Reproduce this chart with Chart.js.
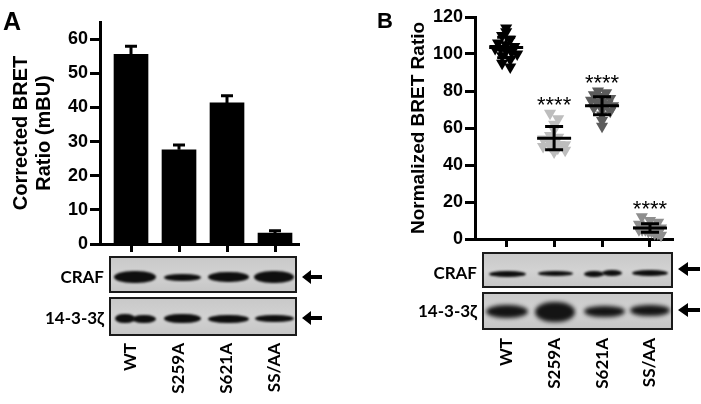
<!DOCTYPE html>
<html>
<head>
<meta charset="utf-8">
<script src="https://cdn.jsdelivr.net/npm/chart.js@4/dist/chart.umd.min.js"></script>
<style>
  html, body { margin: 0; padding: 0; background: #fff; }
  #wrap { position: relative; width: 701px; height: 404px; overflow: hidden; background: #fff; }
  canvas { position: absolute; top: 0; }
  .lbl { position: absolute; font-family: 'Lato', 'Open Sans', sans-serif; font-weight: 700; font-size: 17px; line-height: 1; color: #000; white-space: nowrap; text-align: right; }
  .panel { position: absolute; font-family: 'Liberation Sans', Arial, sans-serif; font-weight: 700; line-height: 1; color: #000; }
  .blot { position: absolute; box-sizing: border-box; border: 2px solid #1a1a1a; background: linear-gradient(180deg, #c9c9c9, #d2d2d2 50%, #c6c6c6); overflow: hidden; }
  .band { position: absolute; background: #0e0e0e; border-radius: 45% / 50%; filter: blur(1.3px); }
  .soft { filter: blur(2px); background: #141414; }
  .arrow { position: absolute; }
</style>
</head>
<body>
<div id="wrap">
  <canvas id="chartA" width="350" height="404" style="left:0;width:350px;height:404px"></canvas>
  <canvas id="chartB" width="351" height="404" style="left:350px;width:351px;height:404px"></canvas>

  <div class="panel" style="left:3px;top:9px;font-size:25px">A</div>
  <div class="panel" style="left:377px;top:10px;font-size:22px">B</div>

  <!-- Panel A blots -->
  <div class="lbl" style="right:597px;top:268px">CRAF</div>
  <div class="lbl" style="right:597px;top:309px">14-3-3ζ</div>
  <div class="blot" style="left:109px;top:256px;width:188px;height:37px">
    <div class="band" style="left:3px;top:13px;width:42px;height:12px"></div>
    <div class="band" style="left:53px;top:16px;width:37px;height:7px"></div>
    <div class="band" style="left:97px;top:14px;width:41px;height:10px"></div>
    <div class="band" style="left:143px;top:13px;width:40px;height:12px"></div>
  </div>
  <div class="blot" style="left:109px;top:297px;width:188px;height:39px">
    <div class="band" style="left:4px;top:15px;width:20px;height:9px"></div>
    <div class="band" style="left:21px;top:16px;width:24px;height:8px"></div>
    <div class="band" style="left:53px;top:15px;width:37px;height:9px"></div>
    <div class="band" style="left:97px;top:16px;width:41px;height:8px"></div>
    <div class="band" style="left:144px;top:16px;width:39px;height:7px"></div>
  </div>
  <svg class="arrow" style="left:302px;top:270px" width="20" height="14" viewBox="0 0 20 14"><polygon points="0,7 9,0 9,5 20,5 20,9 9,9 9,14" fill="#000"/></svg>
  <svg class="arrow" style="left:302px;top:311px" width="20" height="14" viewBox="0 0 20 14"><polygon points="0,7 9,0 9,5 20,5 20,9 9,9 9,14" fill="#000"/></svg>

  <!-- Panel B blots -->
  <div class="lbl" style="right:224px;top:264px">CRAF</div>
  <div class="lbl" style="right:224px;top:302px">14-3-3ζ</div>
  <div class="blot" style="left:482px;top:252px;width:191px;height:36px">
    <div class="band" style="left:5px;top:17px;width:37px;height:6px"></div>
    <div class="band" style="left:54px;top:17px;width:35px;height:5px"></div>
    <div class="band" style="left:100px;top:17px;width:20px;height:6px"></div>
    <div class="band" style="left:118px;top:16px;width:20px;height:6px"></div>
    <div class="band" style="left:148px;top:16px;width:36px;height:6px"></div>
  </div>
  <div class="blot" style="left:482px;top:292px;width:191px;height:38px">
    <div class="band soft" style="left:2px;top:11px;width:42px;height:13px"></div>
    <div class="band soft" style="left:51px;top:8px;width:40px;height:20px"></div>
    <div class="band soft" style="left:100px;top:12px;width:41px;height:11px"></div>
    <div class="band soft" style="left:146px;top:11px;width:40px;height:11px"></div>
  </div>
  <svg class="arrow" style="left:678px;top:262px" width="22" height="14" viewBox="0 0 22 14"><polygon points="0,7 10,0 10,5 22,5 22,9 10,9 10,14" fill="#000"/></svg>
  <svg class="arrow" style="left:678px;top:303px" width="22" height="14" viewBox="0 0 22 14"><polygon points="0,7 10,0 10,5 22,5 22,9 10,9 10,14" fill="#000"/></svg>
</div>

<script>
// ---------- DATA ----------
const categories = ['WT', 'S259A', 'S621A', 'SS/AA'];

// Panel A: corrected BRET ratio (mBU), mean and error
const barValues = [55.5, 27.6, 41.3, 3.2];
const barErrors = [2.7, 1.7, 2.4, 1.0];
const yTicksA = [0, 10, 20, 30, 40, 50, 60];

// Panel B: normalized BRET ratio, individual replicates
const wtB    = [114, 112, 110, 108, 106, 105, 104, 103, 103, 102, 101, 100, 99, 97, 95, 93];
const s259aB = [68, 65, 62, 59, 56, 55, 54, 53, 52, 51, 51, 50, 50, 49, 48, 47];
const s621aB = [80, 79, 78, 77, 76, 75, 74, 74, 73, 72, 71, 70, 69, 67, 64, 61];
const ssaaB  = [12, 10, 9, 8, 7, 7, 6, 6, 5, 5, 5, 4, 4, 3, 3, 2];
const meanB  = [103.5, 54.5, 72.0, 6.0];
const sdB    = [5.5, 6.3, 4.9, 2.3];
const sigLabels = ['', '****', '****', '****'];
const yTicksB = [0, 20, 40, 60, 80, 100, 120];

const groupsB = [wtB, s259aB, s621aB, ssaaB];
const groupColors = ['#000000', '#bdbdbd', '#5c5c5c', '#8e8e8e'];

// ---------- helpers ----------
const tickFont = { family: "'Liberation Sans', Arial, sans-serif", size: 18, weight: 'bold' };
const catFont = { family: "'Lato', 'Open Sans', sans-serif", size: 17, weight: 'bold' };

function spread(vals, idx) {
  // simple beeswarm-like horizontal spread of points having close values
  const bins = {};
  vals.forEach((v, k) => { const b = Math.round(v / 3.5); (bins[b] = bins[b] || []).push(k); });
  const out = new Array(vals.length);
  Object.values(bins).forEach(list => {
    const n = list.length;
    const step = n > 1 ? Math.min(0.17, 0.46 / (n - 1)) : 0;
    list.forEach((k, j) => { out[k] = { x: idx + (j - (n - 1) / 2) * step, y: vals[k] }; });
  });
  return out;
}

function xScaleOpts(min, max, h) {
  return {
    type: 'linear', min: min, max: max, offset: false,
    afterBuildTicks: s => { s.ticks = categories.map((c, i) => ({ value: i })); },
    afterFit: s => { s.height = h; s.paddingLeft = 0; s.paddingRight = 0; s.paddingTop = 0; s.paddingBottom = 0; },
    ticks: {
      autoSkip: false, maxRotation: 90, minRotation: 90, padding: 91,
      color: '#000', font: catFont,
      callback: v => categories[v]
    },
    grid: { display: true, offset: false, drawOnChartArea: false, drawTicks: true, tickLength: 8, tickWidth: 3, tickColor: '#000' },
    border: { display: true, color: '#000', width: 3 }
  };
}

function yScaleOpts(min, max, tickArr, width, title, titlePad, titleSize) {
  return {
    type: 'linear', min: min, max: max,
    afterBuildTicks: s => { s.ticks = tickArr.map(v => ({ value: v })); },
    afterFit: s => { s.width = width; s.paddingTop = 0; s.paddingBottom = 0; },
    ticks: { color: '#000', font: tickFont, padding: 2 },
    grid: { display: true, drawOnChartArea: false, drawTicks: true, tickLength: 10, tickWidth: 3, tickColor: '#000' },
    border: { display: true, color: '#000', width: 3 },
    title: {
      display: true, text: title, color: '#000',
      font: { family: "'Liberation Sans', Arial, sans-serif", size: titleSize, weight: 'bold', lineHeight: 1.15 },
      padding: { top: titlePad, bottom: 0 }
    }
  };
}

// ---------- Chart A ----------
const errorBarsA = {
  id: 'errorBarsA',
  afterDatasetsDraw(chart) {
    const { ctx, scales: { x, y } } = chart;
    ctx.save();
    ctx.strokeStyle = '#000'; ctx.lineWidth = 3; ctx.lineCap = 'butt';
    barValues.forEach((v, i) => {
      const px = x.getPixelForValue(i);
      const base = y.getPixelForValue(v);
      const top = y.getPixelForValue(v + barErrors[i]);
      ctx.beginPath();
      ctx.moveTo(px, base); ctx.lineTo(px, top);
      ctx.moveTo(px - 6, top + 1); ctx.lineTo(px + 6, top + 1);
      ctx.stroke();
    });
    ctx.restore();
  }
};

const chartA = new Chart(document.getElementById('chartA'), {
  type: 'bar',
  data: {
    datasets: [{
      data: barValues.map((v, i) => ({ x: i, y: v })),
      backgroundColor: '#000', borderWidth: 0, barThickness: 34
    }]
  },
  options: {
    responsive: false, animation: false, devicePixelRatio: 1,
    layout: { padding: { top: 22, right: 51, left: 0, bottom: 0 } },
    plugins: { legend: { display: false }, tooltip: { enabled: false } },
    scales: {
      x: xScaleOpts(-0.646, 3.5, 160),
      y: yScaleOpts(0, 65, yTicksA, 100, ['Corrected BRET', 'Ratio (mBU)'], 9.5, 20)
    }
  },
  plugins: [errorBarsA]
});

// ---------- Chart B ----------
const sdBarsB = {
  id: 'sdBarsB',
  afterDatasetsDraw(chart) {
    const { ctx, scales: { x, y } } = chart;
    ctx.save();
    ctx.strokeStyle = '#000'; ctx.lineWidth = 3;
    meanB.forEach((m, i) => {
      const px = x.getPixelForValue(i);
      const pm = y.getPixelForValue(m);
      const pt = y.getPixelForValue(m + sdB[i]);
      const pb = y.getPixelForValue(m - sdB[i]);
      ctx.beginPath();
      ctx.moveTo(px - 17, pm); ctx.lineTo(px + 17, pm);
      ctx.moveTo(px, pt); ctx.lineTo(px, pb);
      ctx.moveTo(px - 9, pt); ctx.lineTo(px + 9, pt);
      ctx.moveTo(px - 9, pb); ctx.lineTo(px + 9, pb);
      ctx.stroke();
    });
    ctx.fillStyle = '#000';
    ctx.font = "22px 'Liberation Sans', Arial, sans-serif";
    ctx.textAlign = 'center'; ctx.textBaseline = 'alphabetic';
    groupsB.forEach((vals, i) => {
      if (!sigLabels[i]) return;
      const top = y.getPixelForValue(Math.max(...vals));
      ctx.fillText(sigLabels[i], x.getPixelForValue(i), top - 14 + 12.9);
    });
    ctx.restore();
  }
};

const chartB = new Chart(document.getElementById('chartB'), {
  type: 'scatter',
  data: {
    datasets: groupsB.map((vals, i) => ({
      data: spread(vals, i),
      pointStyle: 'triangle', rotation: 180, pointRadius: 7,
      backgroundColor: groupColors[i], borderColor: groupColors[i], borderWidth: 0,
      clip: false
    }))
  },
  options: {
    responsive: false, animation: false, devicePixelRatio: 1,
    layout: { padding: { top: 17, right: 28, left: 0, bottom: 0 } },
    plugins: { legend: { display: false }, tooltip: { enabled: false } },
    scales: {
      x: xScaleOpts(-0.65, 3.48, 165),
      y: yScaleOpts(0, 120, yTicksB, 125, 'Normalized BRET Ratio', 57.5, 19)
    }
  },
  plugins: [sdBarsB]
});
</script>
</body>
</html>
